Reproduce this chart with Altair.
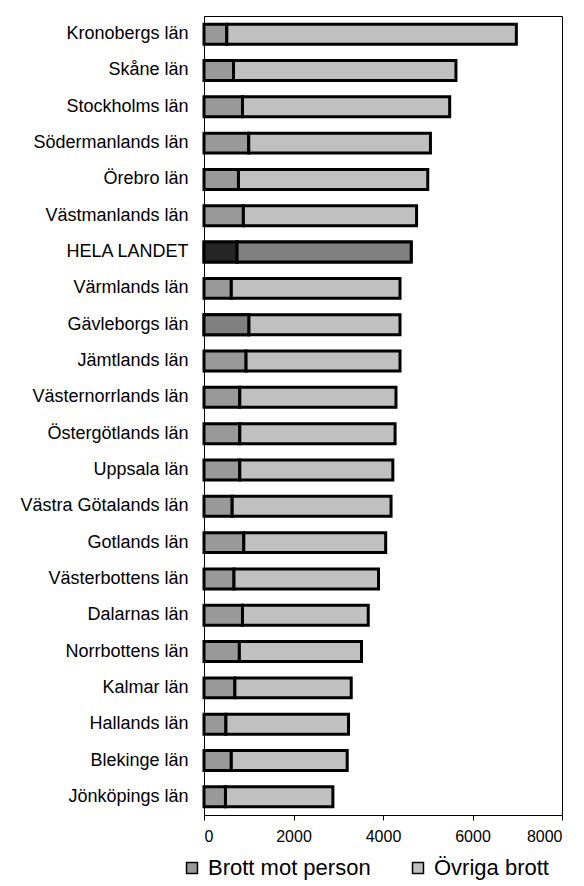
import altair as alt
import pandas as pd

regions = [
    "Kronobergs län", "Skåne län", "Stockholms län", "Södermanlands län",
    "Örebro län", "Västmanlands län", "HELA LANDET", "Värmlands län",
    "Gävleborgs län", "Jämtlands län", "Västernorrlands län", "Östergötlands län",
    "Uppsala län", "Västra Götalands län", "Gotlands län", "Västerbottens län",
    "Dalarnas län", "Norrbottens län", "Kalmar län", "Hallands län",
    "Blekinge län", "Jönköpings län",
]
person = [510, 660, 860, 1000, 770, 880, 740, 610, 1000, 940, 800, 800,
          800, 630, 890, 670, 860, 790, 690, 490, 610, 480]
ovriga = [6470, 4970, 4630, 4060, 4230, 3870, 3890, 3770, 3380, 3440, 3490, 3470,
          3420, 3550, 3170, 3230, 2810, 2730, 2600, 2740, 2590, 2400]
series_names = ["Brott mot person", "Övriga brott"]
series_colors = ["#999999", "#C0C0C0"]
special_fill = {
    ("HELA LANDET", "Brott mot person"): "#262626",
    ("HELA LANDET", "Övriga brott"): "#808080",
    ("Gävleborgs län", "Brott mot person"): "#808080",
}

rows = []
for r, p, o in zip(regions, person, ovriga):
    rows.append(dict(region=r, series=series_names[0], start=0, end=p))
    rows.append(dict(region=r, series=series_names[1], start=p, end=p + o))
df = pd.DataFrame(rows)
df["fillcol"] = [special_fill.get((a, b), "") for a, b in zip(df["region"], df["series"])]
df_special = df[df["fillcol"] != ""]

FONT = "Liberation Sans"

y_enc = alt.Y(
    "region:N", sort=regions, title=None,
    scale=alt.Scale(paddingInner=0.45, paddingOuter=0.225),
    axis=alt.Axis(ticks=False, domain=True, domainColor="black", domainWidth=1,
                  labelFontSize=18, labelFont=FONT, labelColor="black",
                  labelPadding=16, labelLimit=300),
)
x_enc = alt.X(
    "start:Q", title=None,
    scale=alt.Scale(domain=[0, 8000], nice=False, zero=True),
    axis=alt.Axis(values=[0, 2000, 4000, 6000, 8000], grid=False, tickSize=5,
                  tickColor="black", domainColor="black", format="d",
                  labelFontSize=16, labelFont=FONT, labelColor="black",
                  labelPadding=8),
)

base = alt.Chart(df).mark_bar(stroke="black", strokeWidth=3).encode(
    y=y_enc, x=x_enc, x2="end:Q",
    color=alt.Color(
        "series:N",
        scale=alt.Scale(domain=series_names, range=series_colors),
        legend=alt.Legend(
            title=None, orient="none", direction="horizontal",
            legendX=-23, legendY=841, symbolType="square", symbolSize=120,
            symbolStrokeColor="black", symbolStrokeWidth=1.5,
            labelFontSize=22, labelFont=FONT, labelColor="black",
            labelOffset=5, columnPadding=36, labelLimit=400,
        ),
    ),
)

special = alt.Chart(df_special).mark_bar(stroke="black", strokeWidth=3).encode(
    y=y_enc, x=x_enc, x2="end:Q",
    fill=alt.Fill("fillcol:N", scale=None),
)

chart = alt.layer(base, special).properties(
    width=358, height=799,
    padding={"left": 11, "top": 8, "right": 5, "bottom": 5},
).configure_view(stroke="black", strokeWidth=1)

chart.save("out.html", embed_options={"renderer": "svg", "actions": False})
